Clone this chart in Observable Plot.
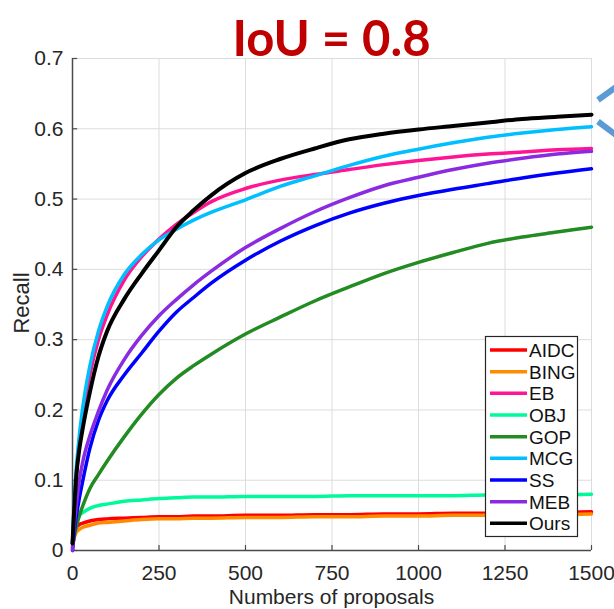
<!DOCTYPE html>
<html>
<head>
<meta charset="utf-8">
<script src="https://cdn.jsdelivr.net/npm/d3@7"></script>
<script src="https://cdn.jsdelivr.net/npm/@observablehq/plot@0.6"></script>
<style>
  body { margin: 0; background: #fff; }
  #wrap { position: relative; width: 614px; height: 609px; overflow: hidden; }
  #wrap svg { position: absolute; left: 0; top: 0; }
</style>
</head>
<body>
<div id="wrap"></div>
<script>
// ---- data ----
const proposals = [0,5,10,20,30,50,75,100,150,200,250,300,350,400,500,600,700,800,900,1000,1100,1200,1300,1400,1500];
const AIDC = [0.010,0.025,0.032,0.037,0.039,0.042,0.044,0.045,0.046,0.047,0.048,0.048,0.049,0.049,0.050,0.050,0.051,0.051,0.052,0.052,0.053,0.053,0.054,0.054,0.055];
const BING = [0.005,0.018,0.025,0.030,0.033,0.036,0.039,0.040,0.042,0.044,0.045,0.045,0.046,0.046,0.047,0.047,0.048,0.048,0.049,0.049,0.050,0.050,0.051,0.051,0.052];
const EB   = [0.010,0.060,0.100,0.155,0.195,0.250,0.300,0.335,0.385,0.418,0.443,0.464,0.481,0.496,0.515,0.527,0.535,0.542,0.549,0.555,0.560,0.564,0.567,0.570,0.572];
const OBJ  = [0.010,0.035,0.043,0.050,0.054,0.060,0.064,0.066,0.070,0.072,0.074,0.075,0.076,0.076,0.077,0.077,0.077,0.078,0.078,0.078,0.078,0.079,0.079,0.079,0.080];
const GOP  = [0.005,0.020,0.032,0.050,0.064,0.088,0.108,0.127,0.162,0.194,0.222,0.245,0.263,0.279,0.308,0.332,0.355,0.375,0.394,0.410,0.424,0.437,0.446,0.453,0.460];
const MCG  = [0.010,0.070,0.110,0.165,0.205,0.262,0.312,0.347,0.393,0.421,0.442,0.457,0.470,0.481,0.499,0.518,0.533,0.548,0.561,0.571,0.580,0.588,0.594,0.599,0.603];
const SS   = [0.000,0.025,0.045,0.075,0.100,0.145,0.185,0.213,0.250,0.281,0.312,0.339,0.360,0.380,0.413,0.440,0.462,0.480,0.494,0.505,0.514,0.522,0.530,0.537,0.543];
const MEB  = [0.000,0.035,0.060,0.100,0.127,0.163,0.198,0.228,0.272,0.306,0.334,0.357,0.378,0.397,0.431,0.458,0.482,0.502,0.519,0.531,0.542,0.551,0.558,0.564,0.568];
const Ours = [0.010,0.060,0.100,0.145,0.175,0.225,0.276,0.312,0.358,0.394,0.427,0.460,0.484,0.505,0.537,0.557,0.572,0.585,0.593,0.599,0.604,0.609,0.614,0.617,0.620];

const methods = ["AIDC","BING","EB","OBJ","GOP","MCG","SS","MEB","Ours"];
const colors  = ["#ff0000","#ff8c00","#ff1493","#00fa9a","#228b22","#00bfff","#0000ff","#8a2be2","#000000"];
const seriesValues = [AIDC, BING, EB, OBJ, GOP, MCG, SS, MEB, Ours];
const xTicks = [0,250,500,750,1000,1250,1500];
const yTicks = [0,0.1,0.2,0.3,0.4,0.5,0.6,0.7];
const titleText = "IoU = 0.8";
const xLabel = "Numbers of proposals";
const yLabel = "Recall";

// ---- build ----
const rows = [];
methods.forEach((m, i) => proposals.forEach((p, j) => rows.push({method: m, x: p, y: seriesValues[i][j]})));

const axisColor = "#4a4a4a";
const lineMarks = methods.map((m, i) =>
  Plot.line(rows.filter(r => r.method === m), {
    x: "x", y: "y", stroke: colors[i],
    strokeWidth: m === "Ours" ? 4 : 3.5,
    curve: "monotone-x", strokeLinejoin: "round"
  })
);

const chart = Plot.plot({
  width: 614, height: 609,
  marginTop: 58, marginBottom: 59, marginLeft: 72, marginRight: 23,
  style: {fontFamily: "'Liberation Sans', Arial, sans-serif", fontSize: "21px", color: "#262626", background: "transparent", overflow: "visible"},
  x: {domain: [0, 1500]},
  y: {domain: [0, 0.7]},
  marks: [
    Plot.gridX(xTicks, {stroke: "#dcdcdc", strokeOpacity: 1}),
    Plot.gridY(yTicks, {stroke: "#dcdcdc", strokeOpacity: 1}),
    Plot.axisX(xTicks, {tickSize: 0, tickPadding: 15, tickFormat: d => String(d), label: null, fill: "#262626"}),
    Plot.axisY(yTicks, {tickSize: 0, tickPadding: 9, tickFormat: d => String(d), label: null, fill: "#262626"}),
    Plot.ruleX(xTicks, {y1: 0, y2: 0.007, stroke: axisColor, strokeWidth: 1.2}),
    Plot.ruleY(yTicks, {x1: 0, x2: 15, stroke: axisColor, strokeWidth: 1.2}),
    Plot.ruleX([0], {stroke: axisColor, strokeWidth: 1.5}),
    Plot.ruleY([0], {stroke: axisColor, strokeWidth: 1.5}),
    ...lineMarks
  ]
});

const wrap = document.getElementById("wrap");
wrap.appendChild(chart);

// ---- overlay: title, axis labels, legend, decoration ----
const ov = d3.select(wrap).append("svg")
  .attr("width", 614).attr("height", 609)
  .style("pointer-events", "none");

ov.append("text").text(titleText)
  .attr("x", 331.5).attr("y", 55.5).attr("text-anchor", "middle")
  .attr("font-family", "Lato, 'Open Sans', sans-serif").attr("font-weight", "bold")
  .attr("font-size", 49).attr("fill", "#c00000");

ov.append("text").text(xLabel)
  .attr("x", 331.5).attr("y", 604).attr("text-anchor", "middle")
  .attr("font-family", "'Liberation Sans', Arial, sans-serif").attr("font-size", 21).attr("fill", "#262626");

ov.append("text").text(yLabel)
  .attr("transform", "translate(29,303) rotate(-90)").attr("text-anchor", "middle")
  .attr("font-family", "'Liberation Sans', Arial, sans-serif").attr("font-size", 22).attr("fill", "#262626");

// legend
const lg = ov.append("g");
lg.append("rect").attr("x", 485.5).attr("y", 336.5).attr("width", 92).attr("height", 200)
  .attr("fill", "#fff").attr("stroke", "#262626").attr("stroke-width", 1.2);
methods.forEach((m, i) => {
  const cy = 350 + i * 21.67;
  lg.append("line").attr("x1", 490).attr("x2", 527).attr("y1", cy).attr("y2", cy)
    .attr("stroke", colors[i]).attr("stroke-width", 3.5);
  lg.append("text").text(m).attr("x", 529).attr("y", cy + 7)
    .attr("font-family", "'Liberation Sans', Arial, sans-serif").attr("font-size", 19).attr("fill", "#111");
});

// decorative chevron at right edge
ov.append("line").attr("x1", 598).attr("y1", 100).attr("x2", 616).attr("y2", 87)
  .attr("stroke", "#5b9bd5").attr("stroke-width", 6);
ov.append("line").attr("x1", 598).attr("y1", 121.5).attr("x2", 616).attr("y2", 135)
  .attr("stroke", "#5b9bd5").attr("stroke-width", 6);
</script>
</body>
</html>
